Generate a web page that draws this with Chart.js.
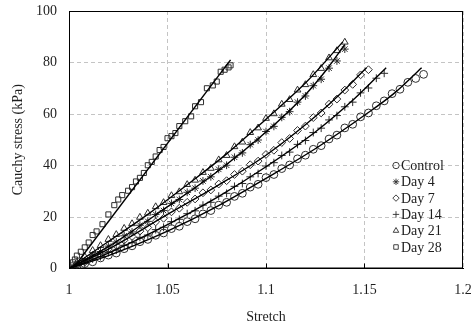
<!DOCTYPE html>
<html>
<head>
<meta charset="utf-8">
<script src="https://cdn.jsdelivr.net/npm/chart.js@4.4.0/dist/chart.umd.min.js"></script>
<style>
  html, body { margin: 0; padding: 0; background: #fff; }
  #wrap { width: 473px; height: 330px; }
</style>
</head>
<body>
<div id="wrap"><canvas id="chart" width="473" height="330"></canvas></div>
<script>
// stretch values shared by the first five groups (one reading every 0.004)
const stretch = [1.000, 1.004, 1.008, 1.012, 1.016, 1.020, 1.024, 1.028, 1.032, 1.036,
  1.040, 1.044, 1.048, 1.052, 1.056, 1.060, 1.064, 1.068, 1.072, 1.076,
  1.080, 1.084, 1.088, 1.092, 1.096, 1.100, 1.104, 1.108, 1.112, 1.116,
  1.120, 1.124, 1.128, 1.132, 1.136, 1.140, 1.144, 1.148, 1.152, 1.156,
  1.160, 1.164, 1.168, 1.172, 1.176, 1.180];

const controlStress = [0, 0.6, 1.9, 2.6, 4.1, 5.2, 6.0, 7.7, 8.8, 10.4, 11.3, 12.9, 13.8, 15.5, 16.4,
  18.2, 19.3, 21.2, 22.5, 24.6, 25.7, 28.0, 29.2, 31.6, 32.7, 35.3, 36.5, 38.8, 40.2, 42.6,
  44.0, 46.3, 47.7, 50.3, 51.8, 54.6, 56.0, 58.9, 60.4, 63.2, 65.1, 67.9, 69.6, 72.3, 73.8, 75.4];
const day4Stress = [0, 1.6, 3.0, 5.2, 6.6, 8.7, 10.3, 12.7, 14.2, 16.8, 18.3, 21.0, 22.5, 25.3, 26.8,
  29.6, 31.2, 34.0, 35.6, 38.5, 40.1, 43.2, 44.9, 48.1, 49.9, 53.2, 55.2, 58.7, 60.9, 64.6,
  67.0, 71.0, 73.5, 77.8, 80.6, 85.2];
const day7Stress = [0, 1.4, 2.5, 4.4, 5.6, 7.6, 8.9, 11.0, 12.4, 14.5, 15.9, 18.1, 19.5, 22.0, 23.4,
  25.7, 27.0, 29.4, 30.5, 32.8, 34.1, 36.5, 37.8, 40.3, 41.7, 44.3, 45.9, 48.9, 50.5, 53.6,
  55.3, 58.6, 60.4, 63.8, 65.8, 69.3, 71.5, 75.2, 77.2];
const day14Stress = [0, 1.2, 2.0, 3.7, 4.6, 6.2, 7.1, 9.0, 10.0, 12.1, 13.0, 15.1, 16.0, 18.2, 19.1,
  21.3, 22.4, 24.6, 25.7, 28.1, 29.2, 31.9, 33.0, 35.6, 36.9, 39.8, 41.1, 43.9, 45.2, 48.2,
  49.7, 52.8, 54.5, 57.7, 59.4, 62.8, 64.6, 68.2, 70.1, 73.9, 75.8];
const day21Stress = [0, 2.4, 4.6, 7.0, 8.9, 11.3, 13.2, 15.6, 17.4, 19.9, 21.5, 24.0, 25.6, 28.3, 29.8,
  32.6, 34.3, 37.3, 38.9, 42.2, 43.9, 47.3, 49.1, 52.8, 54.6, 58.3, 60.1, 63.8, 65.6, 69.3,
  71.4, 75.3, 77.7, 81.8, 84.6, 87.9];

// day 28 was sampled more densely
const day28Stretch = [1.000, 1.001, 1.002, 1.003, 1.004, 1.006, 1.008, 1.010, 1.012, 1.014,
  1.017, 1.020, 1.023, 1.025, 1.027, 1.030, 1.032, 1.034, 1.036, 1.038,
  1.040, 1.042, 1.044, 1.046, 1.048, 1.050, 1.052, 1.054, 1.056, 1.059,
  1.062, 1.064, 1.067, 1.070, 1.073, 1.075, 1.077, 1.079, 1.081, 1.082];
const day28Stress = [0, 1.2, 2.4, 3.5, 5.0, 6.5, 8.2, 10.1, 13.0, 14.4, 17.2, 21.0, 24.6, 26.8, 28.5,
  30.2, 31.6, 33.8, 35.2, 37.1, 40.1, 41.4, 43.5, 46.0, 47.2, 50.6, 51.4, 52.6, 55.3, 57.2,
  59.1, 63.0, 64.6, 70.0, 71.1, 72.6, 76.4, 77.2, 78.1, 78.9];

// model fits
const controlFitX = [1, 1.02, 1.05, 1.075, 1.1, 1.125, 1.15, 1.165, 1.179];
const controlFitY = [0, 5, 14.5, 24, 35, 46.5, 59.5, 68, 78];
const day4FitX = [1, 1.02, 1.05, 1.075, 1.1, 1.12, 1.13, 1.14];
const day4FitY = [0, 8.5, 24, 37.5, 53, 67.5, 76.5, 87];
const day7FitX = [1, 1.02, 1.05, 1.075, 1.1, 1.125, 1.14, 1.151];
const day7FitY = [0, 7.5, 21, 32, 44, 59, 69.5, 78];
const day14FitX = [1, 1.02, 1.05, 1.075, 1.1, 1.125, 1.145, 1.161];
const day14FitY = [0, 6, 17, 27.5, 39.5, 53, 66, 78];
const day21FitX = [1, 1.02, 1.04, 1.06, 1.08, 1.1, 1.12, 1.139];
const day21FitY = [0, 10.5, 21, 32.5, 44.5, 58, 72, 88];
const day28FitX = [1.002, 1.082];
const day28FitY = [0, 81];

const seriesNames = ["Control", "Day 4", "Day 7", "Day 14", "Day 21", "Day 28"];
const markerStyles = ["circle", "star", "rectRot", "cross", "triangle", "rect"];

const xTicks = [1, 1.05, 1.1, 1.15, 1.2];
const xTickLabels = ["1", "1.05", "1.1", "1.15", "1.2"];

const serif = "'Liberation Serif', 'Times New Roman', serif";
const textColor = "#1e1e1e";
const markColor = "#2e2e2e";

const toPoints = (xs, ys) => ys.map((y, i) => ({ x: xs[i], y: y }));

const measured = [
  [stretch, controlStress], [stretch, day4Stress], [stretch, day7Stress],
  [stretch, day14Stress], [stretch, day21Stress], [day28Stretch, day28Stress]
];
const fits = [
  [controlFitX, controlFitY], [day4FitX, day4FitY], [day7FitX, day7FitY],
  [day14FitX, day14FitY], [day21FitX, day21FitY], [day28FitX, day28FitY]
];

const fitSets = fits.map(([xs, ys], i) => ({
  label: seriesNames[i] + " fit",
  data: toPoints(xs, ys),
  showLine: true,
  borderColor: "#000",
  borderWidth: 1.4,
  pointRadius: 0,
  cubicInterpolationMode: "monotone",
  fill: false
}));

const pointSets = measured.map(([xs, ys], i) => ({
  label: seriesNames[i],
  data: toPoints(xs, ys),
  showLine: false,
  pointStyle: markerStyles[i],
  pointRadius: markerStyles[i] === "rect" ? 3.6 : 3.9,
  pointBorderColor: markColor,
  pointBackgroundColor: "rgba(255,255,255,0)",
  pointBorderWidth: 1
}));

// legend inside plot + box frame + inner x ticks
const insideLegend = {
  id: "insideLegend",
  afterDraw(chart) {
    const { ctx, chartArea } = chart;
    ctx.save();
    ctx.strokeStyle = "#000";
    ctx.lineWidth = 1;
    ctx.strokeRect(chartArea.left + 0.5, chartArea.top + 0.5,
      chartArea.right - chartArea.left - 1, chartArea.bottom - chartArea.top - 1);

    const xs = chart.scales.x;
    xTicks.slice(1, -1).forEach(v => {
      const px = Math.round(xs.getPixelForValue(v)) + 0.5;
      ctx.beginPath();
      ctx.moveTo(px, chartArea.bottom);
      ctx.lineTo(px, chartArea.bottom - 5);
      ctx.stroke();
    });

    ctx.font = "14px " + serif;
    ctx.textBaseline = "middle";
    seriesNames.forEach((name, i) => {
      const x = chartArea.right - 67;
      const y = chartArea.bottom - 103 + i * 16.3;
      ctx.fillStyle = "rgba(255,255,255,0)";
      ctx.strokeStyle = markColor;
      ctx.lineWidth = 0.9;
      Chart.helpers.drawPoint(ctx, { pointStyle: markerStyles[i], radius: 3.2, borderWidth: 0.9, rotation: 0 }, x, y);
      ctx.fillStyle = textColor;
      ctx.fillText(name, x + 5, y + 1);
    });
    ctx.restore();
  }
};

new Chart(document.getElementById("chart"), {
  type: "scatter",
  data: { datasets: [...fitSets, ...pointSets] },
  options: {
    responsive: false,
    animation: false,
    layout: { padding: { top: 11, right: 10, left: 0, bottom: 0 } },
    plugins: {
      legend: { display: false },
      tooltip: { enabled: false }
    },
    scales: {
      x: {
        type: "linear",
        min: 1,
        max: 1.2,
        afterBuildTicks: s => { s.ticks = xTicks.map(v => ({ value: v })); },
        afterFit: s => { s.height = 61.5; s.paddingLeft = 0; s.paddingRight = 0; },
        ticks: {
          callback: (v, i) => xTickLabels[i],
          font: { family: serif, size: 14 },
          color: textColor,
          padding: 13,
          maxRotation: 0
        },
        grid: { color: "#c4c4c4", drawTicks: false, lineWidth: 1 },
        border: { display: true, color: "#000", dash: [4, 3] },
        title: {
          display: true,
          text: "Stretch",
          font: { family: serif, size: 14 },
          color: textColor,
          padding: { top: 4, bottom: 4 }
        }
      },
      y: {
        min: 0,
        max: 100,
        afterFit: s => { s.width = 69; s.paddingTop = 0; s.paddingBottom = 0; },
        ticks: {
          stepSize: 20,
          font: { family: serif, size: 14 },
          color: textColor,
          padding: 12
        },
        grid: { color: "#c4c4c4", drawTicks: false, lineWidth: 1 },
        border: { display: true, color: "#000", dash: [4, 3] },
        title: {
          display: true,
          text: "Cauchy stress (kPa)",
          font: { family: serif, size: 14 },
          color: textColor,
          padding: { top: 10, bottom: 4 }
        }
      }
    }
  },
  plugins: [insideLegend]
});
</script>
</body>
</html>
